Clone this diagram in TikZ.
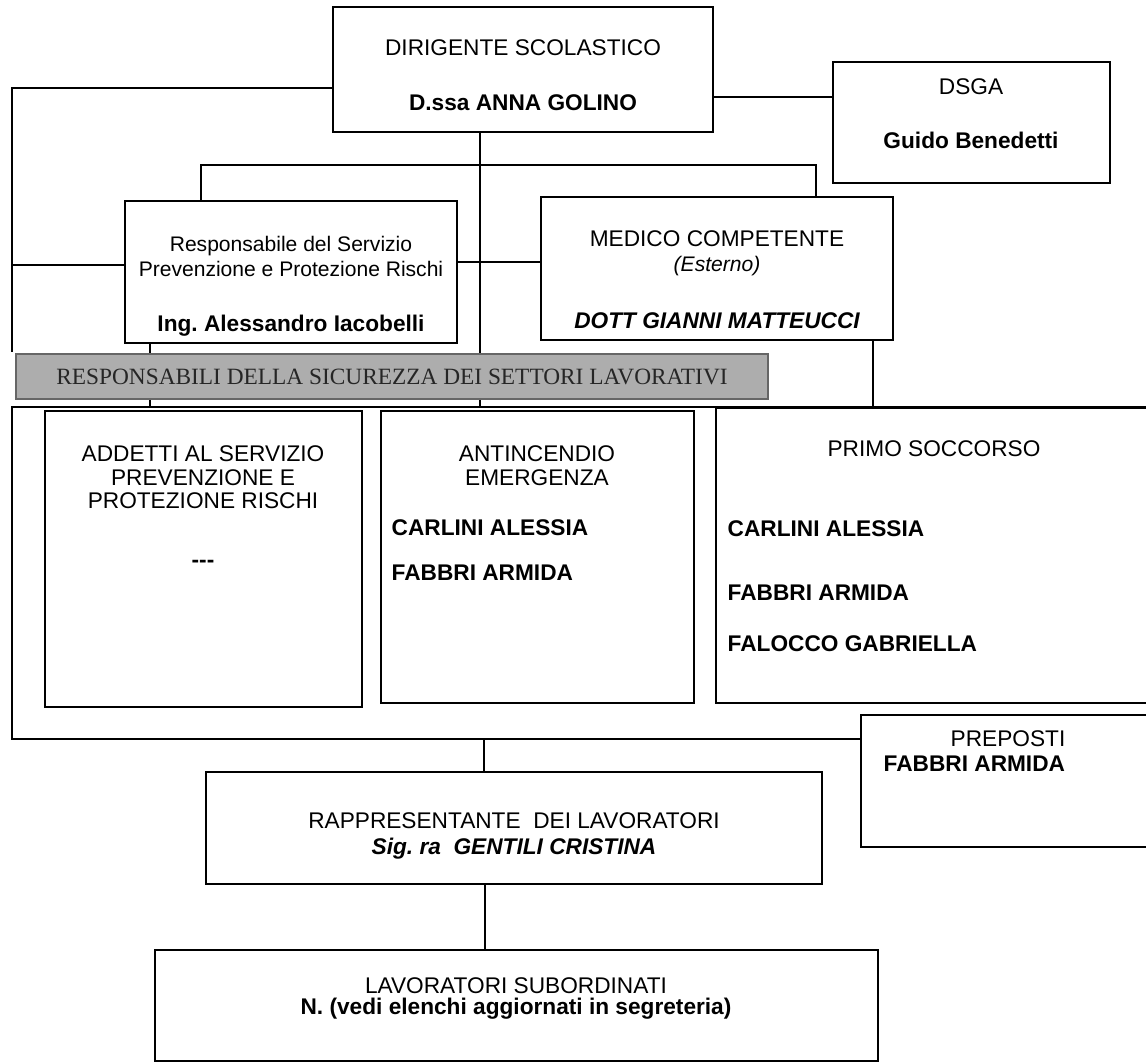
\documentclass[tikz,border=0pt]{standalone}
\usepackage{fontspec}
\setmainfont{Liberation Sans}
\newfontfamily\bandfont{Liberation Serif}
\newcommand\bodysize{\fontsize{17}{20}\selectfont}
\newcommand\smallbody{\fontsize{15.8}{19}\selectfont}
\usetikzlibrary{fit}
\frenchspacing
\begin{document}
\begin{tikzpicture}[x=0.75pt,y=-0.75pt,line width=1.1pt,
  font=\bodysize,
  box/.style={draw,inner sep=0pt},
  txt/.style={inner sep=0pt,anchor=base},
  bold/.style={txt,font=\bodysize\bfseries},
  who/.style={inner sep=0pt,anchor=base west,font=\bodysize\bfseries},
  band/.style={draw=black!60,line width=0.8pt,fill=black!32,inner sep=0pt,
    minimum width=564pt,minimum height=33.75pt,
    text=black!85,font=\bandfont\fontsize{17.5}{20}\selectfont}]
  \useasboundingbox (0,0) rectangle (1146,1063);
  \clip (0,0) rectangle (1146,1063);

  \node[box,fit={(333,7) (713,132)}] (dir) {};
  \node[box,fit={(833,62) (1110,183)}] (dsga) {};
  \node[box,fit={(125,201) (457,343)}] (rspp) {};
  \node[box,fit={(541,197) (893,340)}] (med) {};
  \node[box,fit={(45,411) (362,707)}] (addetti) {};
  \node[box,fit={(381,411) (694,703)}] (antinc) {};
  \node[box,fit={(716,408) (1160,703)}] (soccorso) {};
  \node[box,fit={(861,715) (1160,847)}] (preposti) {};
  \node[box,fit={(206,772) (822,884)}] (rls) {};
  \node[box,fit={(155,950) (878,1061)}] (lavoratori) {};

  \node[txt] (dir_a) at (523,56) {DIRIGENTE SCOLASTICO};
  \node[bold] (dir_b) at (523,110) {D.ssa ANNA GOLINO};
  \node[txt] (dsga_a) at (971,94) {DSGA};
  \node[bold] (dsga_b) at (971,148) {Guido Benedetti};
  \node[txt,font=\smallbody] (rspp_a) at (291,251) {Responsabile del Servizio};
  \node[txt,font=\smallbody] (rspp_b) at (291,276) {Prevenzione e Protezione Rischi};
  \node[bold] (rspp_c) at (291,331) {Ing. Alessandro Iacobelli};
  \node[txt] (med_a) at (717,246) {MEDICO COMPETENTE};
  \node[txt,font=\smallbody\itshape] (med_b) at (717,271) {(Esterno)};
  \node[bold,font=\bodysize\bfseries\itshape] (med_c) at (717,328) {DOTT GIANNI MATTEUCCI};
  \node[txt] (add_a) at (203,461) {ADDETTI AL SERVIZIO};
  \node[txt] (add_b) at (203,485) {PREVENZIONE E};
  \node[txt] (add_c) at (203,508) {PROTEZIONE RISCHI};
  \node[bold] (add_d) at (203,567) {-{}-{}-};
  \node[txt] (ant_a) at (537,461) {ANTINCENDIO};
  \node[txt] (ant_b) at (537,485) {EMERGENZA};
  \node[who] (ant_c) at (391,535) {CARLINI ALESSIA};
  \node[who] (ant_d) at (391,580) {FABBRI ARMIDA};
  \node[txt] (soc_a) at (934,456) {PRIMO SOCCORSO};
  \node[who] (soc_b) at (727,536) {CARLINI ALESSIA};
  \node[who] (soc_c) at (727,600) {FABBRI ARMIDA};
  \node[who] (soc_d) at (727,651) {FALOCCO GABRIELLA};
  \node[txt] (prep_a) at (1008,746) {PREPOSTI};
  \node[who] (prep_b) at (883,771) {FABBRI ARMIDA};
  \node[txt] (rls_a) at (514,828) {RAPPRESENTANTE\ \ DEI LAVORATORI};
  \node[bold,font=\bodysize\bfseries\itshape] (rls_b) at (514,854) {Sig. ra\ \ GENTILI CRISTINA};
  \node[txt] (lav_a) at (516,993) {LAVORATORI SUBORDINATI};
  \node[bold] (lav_b) at (516,1014) {N. (vedi elenchi aggiornati in segreteria)};

  \coordinate (lefttop) at (12,88);
  \coordinate (leftgap) at (12,352);
  \coordinate (tee) at (12,265);
  \coordinate (frameL) at (12,407);
  \coordinate (frameR) at (1160,407);
  \coordinate (leftbot) at (12,739);
  \coordinate (busL) at (201,165);
  \coordinate (busR) at (816,165);

  \draw (dir.east |- 0,97) -- (dsga.west |- 0,97);
  \draw (dir.west |- lefttop) -- (lefttop) -- (leftgap);
  \draw (tee) -- (rspp.west |- tee);
  \draw (frameR) -- (frameL) -- (leftbot) -- (preposti.west |- leftbot);
  \draw (dir.south -| 480,0) -- (frameL -| 480,0);
  \draw (rspp.east |- 0,262) -- (med.west |- 0,262);
  \draw (rspp.north -| busL) -- (busL) -- (busR) -- (med.north -| busR);
  \draw (rspp.south -| 150,0) -- (frameL -| 150,0);
  \draw (med.south -| 873,0) -- (frameL -| 873,0);
  \draw (rls.north -| 484,0) -- (leftbot -| 484,0);
  \draw (rls.south -| 485,0) -- (lavoratori.north -| 485,0);

  \node[band] (rsl) at (392,376.5) {RESPONSABILI DELLA SICUREZZA DEI SETTORI LAVORATIVI};
\end{tikzpicture}
\end{document}
